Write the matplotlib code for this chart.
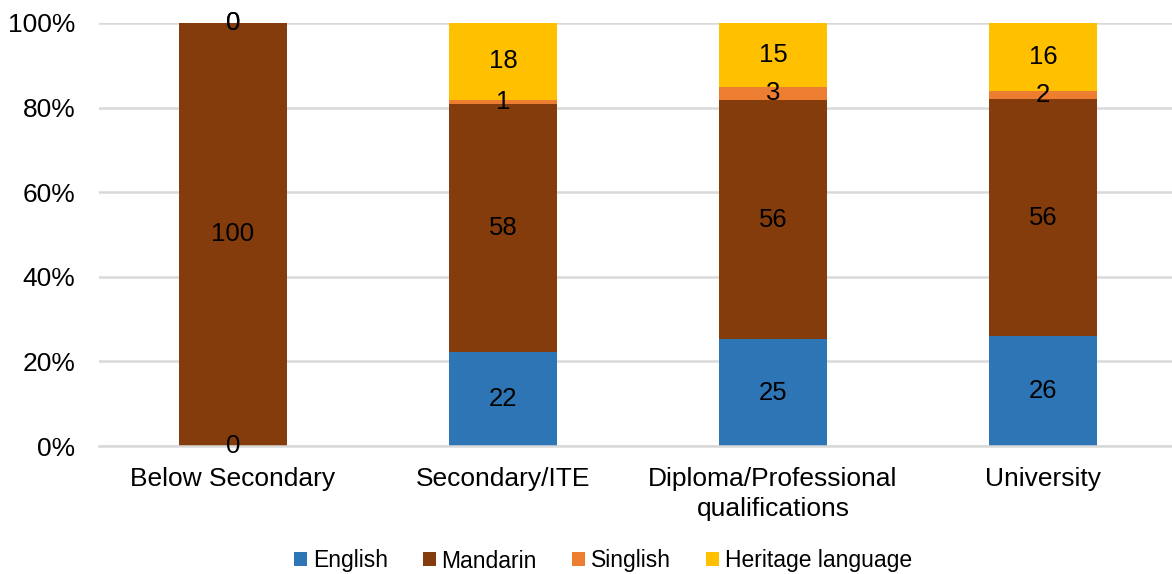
import numpy as np
import matplotlib.pyplot as plt

plt.rcParams['font.family'] = ['Liberation Sans', 'DejaVu Sans']

categories = ['Below Secondary', 'Secondary/ITE', 'Diploma/Professional\nqualifications', 'University']
series = ['English', 'Mandarin', 'Singlish', 'Heritage language']
english = [0, 22, 25, 26]
mandarin = [100, 58, 56, 56]
singlish = [0, 1, 3, 2]
heritage = [0, 18, 15, 16]
colors = ['#2E75B6', '#843C0C', '#ED7D31', '#FFC000']

values = np.array([english, mandarin, singlish, heritage], dtype=float)
shares = values / values.sum(axis=0) * 100  # 100% stacked

fig = plt.figure(figsize=(11.72, 5.74), dpi=100)
ax = fig.add_axes([99 / 1172, 1 - 446 / 574, 1 - 99 / 1172, (446 - 23) / 574])

x = np.arange(len(categories))
bottom = np.zeros(len(categories))
for i, name in enumerate(series):
    ax.bar(x, shares[i], 0.4, bottom=bottom, color=colors[i], label=name, zorder=2)
    for j in range(len(categories)):
        ax.text(x[j], bottom[j] + shares[i][j] / 2, f'{int(values[i][j])}',
                ha='center', va='center', fontsize=18.5, color='black', zorder=3)
    bottom += shares[i]

ax.set_ylim(0, 100)
ax.set_xlim(-0.496, 3.478)
ax.set_yticks(np.arange(0, 101, 20))
ax.set_yticklabels([f'{v}%' for v in range(0, 101, 20)], fontsize=19)
ax.set_xticks(x)
ax.set_xticklabels(categories, fontsize=19, linespacing=1.3)
ax.yaxis.grid(True, color='#D9D9D9', linewidth=1.8, zorder=0)
ax.set_axisbelow(True)
for s in ['top', 'right', 'left']:
    ax.spines[s].set_visible(False)
ax.spines['bottom'].set_color('#D9D9D9')
ax.spines['bottom'].set_linewidth(1.8)
ax.tick_params(axis='x', length=0, pad=15)
ax.tick_params(axis='y', length=0, pad=17)

fig.legend(loc='center', bbox_to_anchor=(603 / 1172, 1 - 561 / 574), ncol=4,
           frameon=False, fontsize=16.5, handlelength=0.55, handleheight=0.55,
           handletextpad=0.25, columnspacing=1.55)

fig.savefig('out.png', dpi=100)
